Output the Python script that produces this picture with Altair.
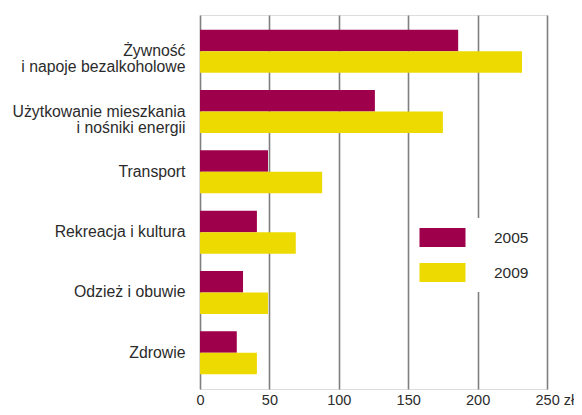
import altair as alt
import pandas as pd

categories = [
    "Żywność|i napoje bezalkoholowe",
    "Użytkowanie mieszkania|i nośniki energii",
    "Transport",
    "Rekreacja i kultura",
    "Odzież i obuwie",
    "Zdrowie",
]
years = ["2005", "2009"]
values_2005 = [186, 126, 49, 41, 31, 26.5]
values_2009 = [232, 175, 88, 69, 49, 41]
x_ticks = [0, 50, 100, 150, 200, 250]
colors = ["#9F004B", "#EDDA00"]

rows = []
for c, a, b in zip(categories, values_2005, values_2009):
    rows.append({"kategoria": c, "rok": "2005", "wartosc": a})
    rows.append({"kategoria": c, "rok": "2009", "wartosc": b})
df = pd.DataFrame(rows)

FONT = "Liberation Sans"
TXT = "#2b2b2b"

chart = (
    alt.Chart(df)
    .mark_bar()
    .encode(
        y=alt.Y(
            "kategoria:N",
            sort=categories,
            scale=alt.Scale(paddingInner=0.287, paddingOuter=0.245),
            axis=alt.Axis(
                title=None,
                domain=False,
                ticks=False,
                grid=False,
                labelExpr="split(datum.label, '|')",
                labelFont=FONT,
                labelFontSize=15.8,
                labelLineHeight=16,
                labelColor=TXT,
                labelPadding=15,
                labelLimit=300,
            ),
        ),
        yOffset=alt.YOffset("rok:N", sort=years, scale=alt.Scale(paddingInner=0, paddingOuter=0)),
        x=alt.X(
            "wartosc:Q",
            scale=alt.Scale(domain=[0, 250], nice=False),
            axis=alt.Axis(
                title=None,
                values=x_ticks,
                domain=False,
                ticks=False,
                grid=True,
                gridColor="#7f7f7f",
                gridWidth=1.6,
                gridOpacity=1,
                labelExpr="datum.value == 250 ? '250 zł' : datum.label",
                labelAlign={"condition": {"test": "datum.value == 250", "value": "left"}, "value": "center"},
                labelOffset={"condition": {"test": "datum.value == 250", "value": -12}, "value": 0},
                labelFont=FONT,
                labelFontSize=14.5,
                labelColor=TXT,
                labelPadding=4,
                labelFlush=False,
                labelOverlap=False,
            ),
        ),
        color=alt.Color(
            "rok:N",
            sort=years,
            scale=alt.Scale(domain=years, range=colors),
            legend=alt.Legend(
                title=None,
                orient="none",
                legendX=223,
                legendY=203,
                fillColor="white",
                padding=10,
                symbolType="M-2.421,-1H2.421V1H-2.421Z",
                symbolSize=361,
                symbolStrokeWidth=0,
                symbolOpacity=1,
                labelFont=FONT,
                labelFontSize=15.5,
                labelColor=TXT,
                labelOffset=42,
                rowPadding=16,
            ),
        ),
    )
    .properties(
        width=347,
        height=374,
        autosize=alt.AutoSizeParams(type="none"),
        padding={"left": 192, "top": 7, "right": 27, "bottom": 18},
    )
    .configure_view(stroke=None)
    .configure(background="white")
)

chart.save("out.html", embed_options={"renderer": "svg", "actions": False})
